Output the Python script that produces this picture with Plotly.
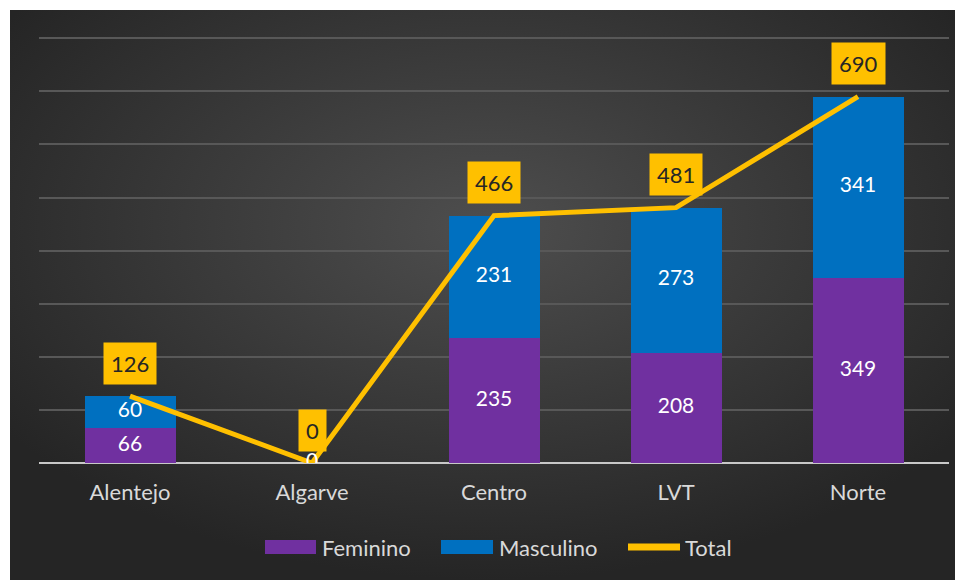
import base64
import plotly.graph_objects as go

regions = ["Alentejo", "Algarve", "Centro", "LVT", "Norte"]
feminino = [66, 0, 235, 208, 349]
masculino = [60, 0, 231, 273, 341]
total = [126, 0, 466, 481, 690]
legend_names = ["Feminino", "Masculino", "Total"]

PURPLE = "#7030A0"
BLUE = "#0070C0"
GOLD = "#FFC000"
TXT = "#d9d9d9"
FONT = "Lato, Carlito, Calibri, sans-serif"

OFF = 8  # default page body margin
W, H = 955, 572
YMAX = 810
ML, MT = 39 - OFF, 33 - OFF
PR, PB = 949 - OFF, 463 - OFF
MR, MB = W - PR, H - PB
pw, ph = PR - ML, PB - MT


def px(xp):
    return (xp - OFF - ML) / pw


def py(yp):
    return (PB - (yp - OFF)) / ph


svg = """<svg xmlns='http://www.w3.org/2000/svg' width='953' height='570' viewBox='0 0 953 570' preserveAspectRatio='none'>
<defs><radialGradient id='g' cx='50%' cy='38%' r='62%'>
<stop offset='0%' stop-color='#4e4e4e'/><stop offset='100%' stop-color='#252525'/>
</radialGradient></defs><rect width='953' height='570' fill='url(#g)'/></svg>"""
src = "data:image/svg+xml;base64," + base64.b64encode(svg.encode()).decode()

fig = go.Figure()
fig.add_bar(x=regions, y=feminino, name=legend_names[0], marker=dict(color=PURPLE, line=dict(width=0)))
fig.add_bar(x=regions, y=masculino, name=legend_names[1], marker=dict(color=BLUE, line=dict(width=0)))
fig.add_scatter(x=regions, y=total, name=legend_names[2], mode="lines",
                line=dict(color=GOLD, width=5))

# bar value labels (centered in each segment)
fig.add_scatter(x=regions, y=[f / 2 for f in feminino], mode="text",
                text=[str(v) for v in feminino], showlegend=False, hoverinfo="skip",
                textfont=dict(color="white", size=21, family=FONT))
fig.add_scatter(x=regions, y=[f + m / 2 for f, m in zip(feminino, masculino)], mode="text",
                text=[str(v) if (f + m) > 0 else "" for f, m, v in zip(feminino, masculino, masculino)],
                showlegend=False, hoverinfo="skip",
                textfont=dict(color="white", size=21, family=FONT))

for r, t in zip(regions, total):
    fig.add_annotation(x=r, y=t, text=str(t), showarrow=False, yshift=33,
                       bgcolor=GOLD, borderpad=7,
                       font=dict(color="#262626", size=22, family=FONT))

# custom legend (wide swatches as in the reference)
fig.add_shape(type="rect", xref="paper", yref="paper", x0=px(265), x1=px(316),
              y0=py(554), y1=py(540), fillcolor=PURPLE, line=dict(width=0))
fig.add_shape(type="rect", xref="paper", yref="paper", x0=px(441), x1=px(493),
              y0=py(554), y1=py(540), fillcolor=BLUE, line=dict(width=0))
fig.add_shape(type="line", xref="paper", yref="paper", x0=px(628), x1=px(680),
              y0=py(547), y1=py(547), line=dict(color=GOLD, width=7))
for name, xp in zip(legend_names, [320, 497, 683]):
    fig.add_annotation(xref="paper", yref="paper", x=px(xp), y=py(547), text=name,
                       showarrow=False, xanchor="left", yanchor="middle",
                       font=dict(size=22, color=TXT, family=FONT))

fig.add_layout_image(source=src, xref="paper", yref="paper",
                     x=px(10), y=py(10),
                     sizex=(963 - 10) / pw, sizey=(580 - 10) / ph,
                     sizing="stretch", xanchor="left", yanchor="top", layer="below")

fig.update_layout(
    width=W, height=H,
    margin=dict(l=ML, r=MR, t=MT, b=MB),
    barmode="stack", bargap=0.5,
    paper_bgcolor="white", plot_bgcolor="rgba(0,0,0,0)",
    font=dict(family=FONT, color=TXT, size=22),
    showlegend=False,
    xaxis=dict(showgrid=False, zeroline=False, showline=False, ticks="",
               ticklabelstandoff=14, tickfont=dict(size=22, color=TXT)),
    yaxis=dict(range=[0, YMAX], tickvals=list(range(100, 801, 100)), showgrid=True,
               gridcolor="#585858", gridwidth=2,
               zeroline=True, zerolinecolor="#c8c8c8", zerolinewidth=2,
               showticklabels=False, ticks=""),
)

fig.write_html("out.html")
